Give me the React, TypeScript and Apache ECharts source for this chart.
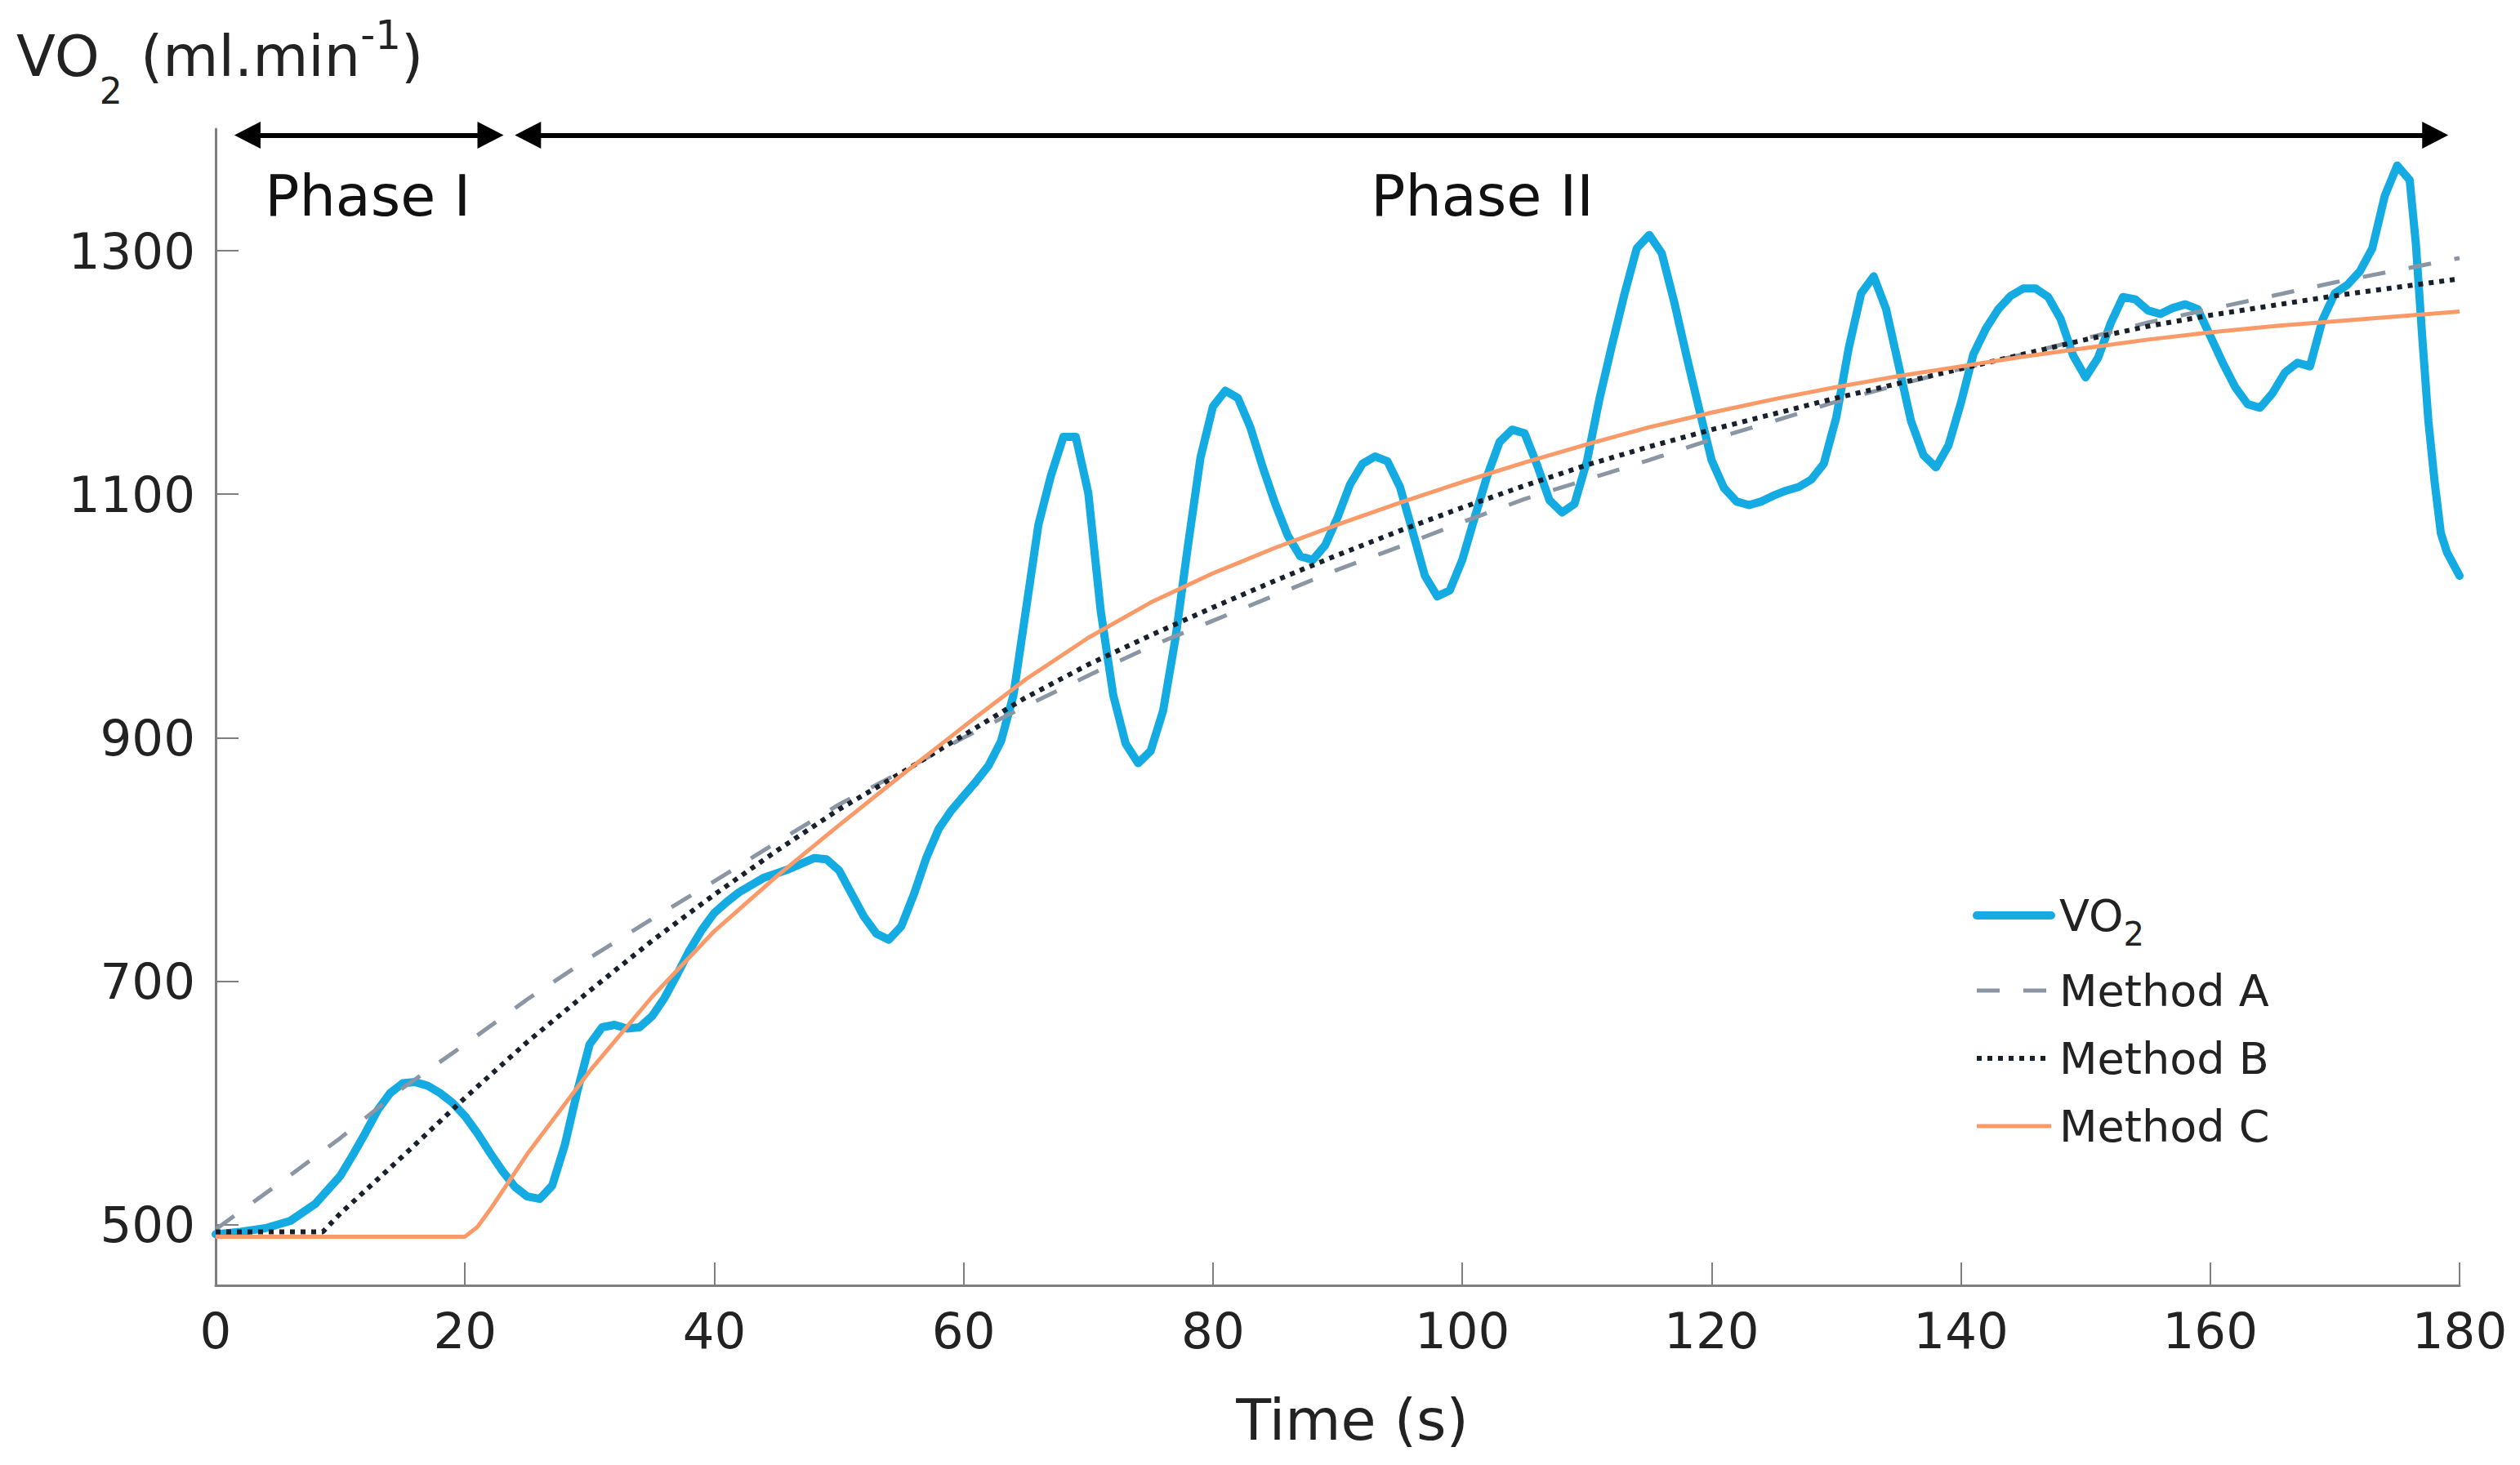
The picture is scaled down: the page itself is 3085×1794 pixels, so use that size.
import { useEffect, useRef } from "react";
import * as echarts from "echarts";

const FONT = "DejaVu Sans";
const TEXT_COLOR = "#222222";
const AXIS_COLOR = "#7f7f7f";

// y tick labels (axis itself spans 450..1400)
const yTicks = [500, 700, 900, 1100, 1300];

// measured VO2 (ml/min) against time (s)
const vo2Time = [
  0, 2, 4, 6, 8, 10, 11, 12, 13, 14, 15, 16, 17, 18, 19, 20, 21, 22, 23, 24, 25,
  26, 27, 28, 29, 30, 31, 32, 33, 34, 35, 36, 37, 38, 39, 40, 41, 42, 44, 46, 48,
  49, 50, 51, 52, 53, 54, 55, 56, 57, 58, 59, 60, 61, 62, 63, 64, 65, 66, 67, 68,
  69, 70, 71, 72, 73, 74, 75, 76, 77, 78, 79, 80, 81, 82, 83, 84, 85, 86, 87, 88,
  89, 90, 91, 92, 93, 94, 95, 96, 97, 98, 99, 100, 101, 102, 103, 104, 105, 106,
  107, 108, 109, 110, 111, 112, 113, 114, 115, 116, 117, 118, 119, 120, 121, 122,
  123, 124, 125, 126, 127, 128, 129, 130, 131, 132, 133, 134, 135, 136, 137, 138,
  139, 140, 141, 142, 143, 144, 145, 146, 147, 148, 149, 150, 151, 152, 153, 154,
  155, 156, 157, 158, 159, 160, 161, 162, 163, 164, 165, 166, 167, 168, 169, 170,
  171, 172, 173, 174, 175, 176, 176.5, 177, 177.5, 178, 178.5, 179, 180,
];
const vo2Values = [
  492, 494, 497, 503, 517, 540, 557, 575, 594, 608, 616, 617, 614, 608, 600, 589,
  575, 559, 544, 531, 523, 521, 532, 565, 609, 648, 662, 664, 661, 662, 671, 686,
  705, 725, 742, 756, 765, 773, 785, 792, 801, 800, 791, 772, 753, 739, 734, 745,
  771, 801, 825, 840, 852, 864, 877, 897, 935, 1005, 1075, 1115, 1147, 1147, 1101,
  1004, 935, 895, 879, 889, 922, 982, 1058, 1130, 1172, 1185, 1179, 1155, 1122,
  1092, 1066, 1049, 1046, 1058, 1081, 1108, 1125, 1131, 1127, 1106, 1070, 1033,
  1016, 1021, 1046, 1081, 1115, 1143, 1153, 1150, 1124, 1095, 1085, 1092, 1127,
  1178, 1222, 1264, 1302, 1313, 1298, 1258, 1213, 1170, 1128, 1105, 1094, 1091,
  1094, 1099, 1103, 1106, 1112, 1125, 1163, 1220, 1265, 1279, 1252, 1206, 1160,
  1132, 1122, 1140, 1175, 1215, 1236, 1252, 1263, 1269, 1269, 1262, 1244, 1214,
  1196, 1212, 1240, 1262, 1260, 1251, 1248, 1253, 1256, 1252, 1230, 1208, 1188,
  1174, 1171, 1183, 1200, 1208, 1205, 1243, 1265, 1272, 1283, 1302, 1345, 1370,
  1358, 1305, 1230, 1160, 1110, 1068, 1052, 1033,
];

// Method A fit (dashed grey)
const methodATime = [
  0, 5, 10, 15, 20, 25, 30, 35, 40, 45, 50, 55, 60, 65, 70, 75, 80, 85, 90, 95,
  100, 105, 110, 115, 120, 125, 130, 135, 140, 145, 150, 155, 160, 165, 170, 175,
  180,
];
const methodAValues = [
  496, 533, 571, 612, 648, 685, 719, 751, 782, 814, 845, 872, 900, 926, 951, 975,
  996, 1017, 1038, 1057, 1077, 1096, 1112, 1128, 1145, 1160, 1176, 1190, 1203,
  1215, 1228, 1241, 1252, 1263, 1274, 1284, 1294,
];

// Method B fit (dotted)
const methodBTime = [
  0, 8.6, 10, 15, 20, 25, 30, 35, 40, 45, 50, 55, 60, 65, 70, 75, 80, 85, 90, 95,
  100, 105, 110, 115, 120, 125, 130, 135, 140, 145, 150, 155, 160, 165, 170, 175,
  180,
];
const methodBValues = [
  494, 494, 509, 556, 604, 650, 692, 733, 771, 807, 841, 871, 902, 933, 960, 984,
  1007, 1029, 1050, 1070, 1089, 1107, 1124, 1139, 1153, 1166, 1179, 1191, 1203,
  1215, 1227, 1238, 1247, 1255, 1263, 1270, 1277,
];

// Method C fit (orange)
const methodCTime = [
  0, 20, 21, 22, 25, 30, 35, 40, 45, 50, 55, 60, 65, 70, 75, 80, 85, 90, 95, 100,
  105, 110, 115, 120, 125, 130, 135, 140, 145, 150, 155, 160, 165, 170, 175, 180,
];
const methodCValues = [
  490, 490, 498, 512, 558, 626, 687, 741, 786, 828, 869, 909, 948, 982, 1011, 1035,
  1056, 1075, 1093, 1110, 1126, 1141, 1155, 1167, 1178, 1188, 1197, 1205, 1213,
  1220, 1227, 1233, 1238, 1242, 1246, 1250,
];

// phase arrows: [label, start, end, label x]
const phases: [string, number, number, number][] = [
  ["Phase I", 2.55, 22.05, 12.2],
  ["Phase II", 25.05, 178.05, 101.6],
];
const phaseArrowY = 1395;
const phaseLabelY = 1345;

const pairs = (xs: number[], ys: number[]) => xs.map((x, i) => [x, ys[i]]);

export default function App() {
  const chartRef = useRef<HTMLDivElement>(null);

  useEffect(() => {
    if (!chartRef.current) return;
    const chart = echarts.init(chartRef.current, null, { renderer: "svg" });

    const option: any = {
      animation: false,
      backgroundColor: "#ffffff",
      grid: {
        left: 264,
        right: 74,
        top: 158,
        bottom: 220,
        containLabel: false,
        outerBoundsMode: "none",
      },
      xAxis: {
        type: "value",
        min: 0,
        max: 180,
        interval: 20,
        name: "Time (s)",
        nameLocation: "middle",
        nameGap: 130,
        nameTextStyle: {
          fontFamily: FONT,
          fontSize: 70,
          color: TEXT_COLOR,
          padding: [0, 0, 0, 36],
        },
        axisLine: { lineStyle: { color: AXIS_COLOR, width: 3 } },
        axisTick: {
          inside: true,
          length: 28,
          lineStyle: { color: AXIS_COLOR, width: 2 },
        },
        axisLabel: {
          margin: 25,
          fontFamily: FONT,
          fontSize: 61,
          color: TEXT_COLOR,
          showMinLabel: true,
          showMaxLabel: true,
          formatter: (v: number) => String(v),
        },
        splitLine: { show: false },
      },
      yAxis: {
        type: "value",
        min: 450,
        max: 1400,
        axisLine: { show: true, lineStyle: { color: AXIS_COLOR, width: 3 } },
        axisTick: {
          show: true,
          inside: true,
          length: 28,
          customValues: yTicks,
          lineStyle: { color: AXIS_COLOR, width: 2 },
        },
        axisLabel: {
          margin: 25,
          fontFamily: FONT,
          fontSize: 61,
          color: TEXT_COLOR,
          customValues: yTicks,
          formatter: (v: number) => String(v),
        },
        splitLine: { show: false },
      },
      legend: {
        orient: "vertical",
        left: 2415,
        top: 1077,
        padding: 0,
        itemGap: 13,
        itemWidth: 91,
        itemHeight: 14,
        selectedMode: false,
        itemStyle: { opacity: 0, borderWidth: 0 },
        lineStyle: { width: "inherit", opacity: 1 },
        data: ["VO2", "Method A", "Method B", "Method C"],
        formatter: (name: string) => (name === "VO2" ? "{m|VO}{s|2}" : name),
        textStyle: {
          fontFamily: FONT,
          fontSize: 54,
          color: TEXT_COLOR,
          lineHeight: 70,
          padding: [0, 0, 0, 5],
          rich: {
            m: {
              fontFamily: FONT,
              fontSize: 54,
              color: TEXT_COLOR,
              lineHeight: 88,
              verticalAlign: "top",
              padding: [17, 0, 0, 0],
            },
            s: {
              fontFamily: FONT,
              fontSize: 40,
              color: TEXT_COLOR,
              lineHeight: 88,
              verticalAlign: "top",
              padding: [47, 0, 0, 0],
            },
          },
        },
      },
      graphic: [
        {
          type: "text",
          left: 20,
          top: 18,
          silent: true,
          style: {
            text: "{m|VO}{s|2}{m| (ml.min}{p|-1}{m|)}",
            rich: {
              m: {
                fontFamily: FONT,
                fontSize: 70,
                fill: TEXT_COLOR,
                verticalAlign: "top",
                padding: [16, 0, 0, 0],
              },
              s: {
                fontFamily: FONT,
                fontSize: 44,
                fill: TEXT_COLOR,
                verticalAlign: "top",
                padding: [71, 0, 0, 0],
              },
              p: {
                fontFamily: FONT,
                fontSize: 50,
                fill: TEXT_COLOR,
                verticalAlign: "top",
                padding: [0, 0, 0, 0],
              },
            },
          },
        },
      ],
      series: [
        {
          name: "VO2",
          type: "line",
          data: pairs(vo2Time, vo2Values),
          symbol: "none",
          clip: false,
          lineStyle: { color: "#14abe3", width: 10, join: "round", cap: "round" },
          itemStyle: { color: "#14abe3" },
          z: 2,
          markLine: {
            silent: true,
            symbol: ["triangle", "triangle"],
            symbolSize: [33, 32],
            label: { show: false },
            emphasis: { disabled: true },
            lineStyle: { color: "#000000", width: 6, type: "solid" },
            itemStyle: { color: "#000000" },
            data: phases.map(([, from, to]) => [
              { coord: [from, phaseArrowY] },
              { coord: [to, phaseArrowY] },
            ]),
          },
          markPoint: {
            silent: true,
            symbol: "circle",
            symbolSize: 0,
            label: {
              show: true,
              position: "inside",
              formatter: "{b}",
              fontFamily: FONT,
              fontSize: 70,
              color: "#111111",
            },
            data: phases.map(([label, , , at]) => ({
              name: label,
              coord: [at, phaseLabelY],
            })),
          },
        },
        {
          name: "Method A",
          type: "line",
          data: pairs(methodATime, methodAValues),
          symbol: "none",
          lineStyle: { color: "#8a96a3", width: 5, type: [28, 29] },
          itemStyle: { color: "#8a96a3" },
          z: 3,
        },
        {
          name: "Method B",
          type: "line",
          data: pairs(methodBTime, methodBValues),
          symbol: "none",
          lineStyle: { color: "#18202b", width: 6, type: [6, 7] },
          itemStyle: { color: "#18202b" },
          z: 4,
        },
        {
          name: "Method C",
          type: "line",
          data: pairs(methodCTime, methodCValues),
          symbol: "none",
          lineStyle: { color: "#fa9a68", width: 5 },
          itemStyle: { color: "#fa9a68" },
          z: 4,
        },
      ],
    };

    chart.setOption(option);

    return () => {
      chart.dispose();
    };
  }, []);

  return (
    <div
      ref={chartRef}
      style={{ position: "fixed", left: 0, top: 0, width: "3085px", height: "1794px" }}
    />
  );
}
